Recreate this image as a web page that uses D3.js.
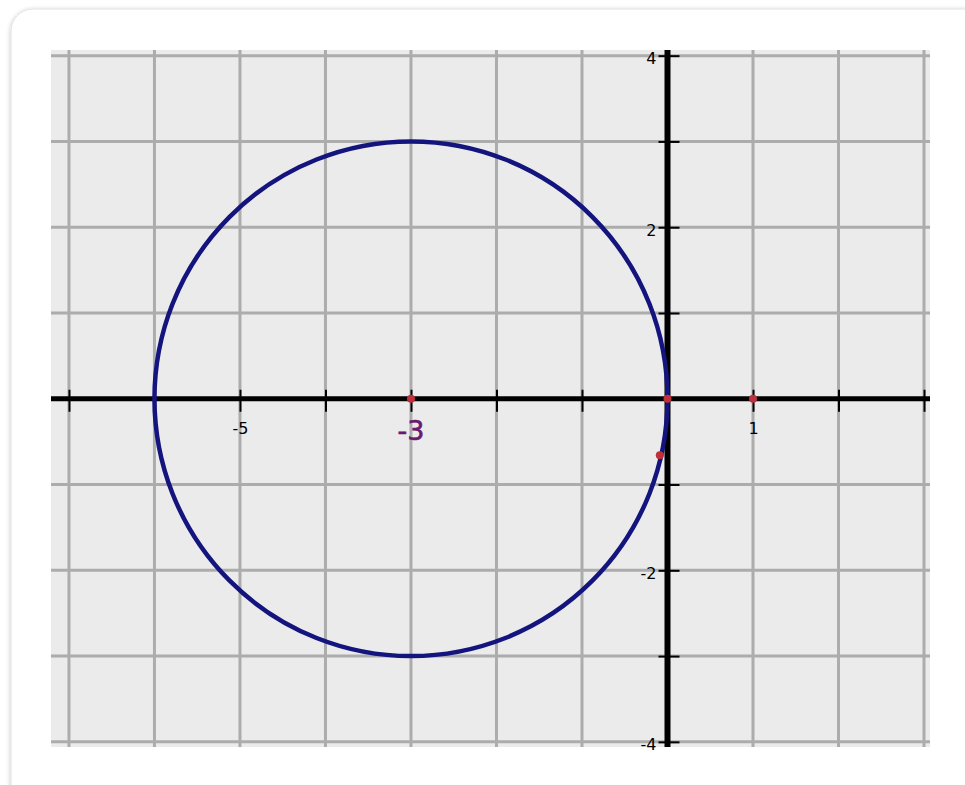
<!DOCTYPE html>
<html>
<head>
<meta charset="utf-8">
<script src="https://cdn.jsdelivr.net/npm/d3@7"></script>
<style>
  body { margin: 0; background: #fff; }
  svg { display: block; }
</style>
</head>
<body>
<script>
// circle: center and radius
const center = [-3, 0]
const radius = 3

// marked points
const pointsX = [-3, 0, 1, -0.09]
const pointsY = [0, 0, 0, -0.66]

// grid and ticks
const xTicks = [-7, -6, -5, -4, -3, -2, -1, 0, 1, 2, 3]
const yTicks = [-4, -3, -2, -1, 0, 1, 2, 3, 4]
const xLabels = [-5, 1]
const yLabels = [4, 2, -2, -4]
const bigLabel = -3

const W = 965, H = 785
const plot = {left: 51, top: 50, right: 930, bottom: 747}

const svg = d3.select('body').append('svg')
    .attr('width', W)
    .attr('height', H)

// card with shadow
const defs = svg.append('defs')
const f = defs.append('filter').attr('id', 'sh').attr('x', -0.05).attr('y', -0.05).attr('width', 1.1).attr('height', 1.1)
f.append('feDropShadow').attr('dx', 0).attr('dy', 1).attr('stdDeviation', 2).attr('flood-color', '#000').attr('flood-opacity', 0.25)

svg.append('rect')
    .attr('x', 11).attr('y', 9)
    .attr('width', 975).attr('height', 800)
    .attr('rx', 22)
    .attr('fill', '#fff')
    .attr('stroke', '#e2e2e2')
    .attr('filter', 'url(#sh)')

const x = d3.scaleLinear().domain([-7.21, 3.07]).range([plot.left, plot.right])
const y = d3.scaleLinear().domain([4.066, -4.06]).range([plot.top, plot.bottom])

// plot background
svg.append('rect')
    .attr('x', plot.left).attr('y', plot.top)
    .attr('width', plot.right - plot.left).attr('height', plot.bottom - plot.top)
    .attr('fill', '#ebebeb')

// grid lines
svg.append('g').selectAll('line').data(xTicks).enter().append('line')
    .attr('x1', d => x(d)).attr('x2', d => x(d))
    .attr('y1', plot.top).attr('y2', plot.bottom)
    .attr('stroke', '#acacac').attr('stroke-width', 3)
svg.append('g').selectAll('line').data(yTicks).enter().append('line')
    .attr('y1', d => y(d)).attr('y2', d => y(d))
    .attr('x1', plot.left).attr('x2', plot.right)
    .attr('stroke', '#acacac').attr('stroke-width', 3)

// axes
const xAxis = svg.append('g')
    .attr('transform', 'translate(0,' + y(0) + ')')
    .call(d3.axisBottom(x).tickValues(xTicks.filter(d => d != 0)).tickSize(12)
        .tickFormat(d => xLabels.includes(d) ? d : ''))
xAxis.select('.domain').remove()
xAxis.selectAll('.tick line').attr('y1', -9).attr('y2', 13).attr('stroke', '#000').attr('stroke-width', 2)
xAxis.selectAll('.tick text').attr('y', 24).attr('fill', '#000')
    .style('font-family', 'DejaVu Sans').style('font-size', '16px')

const yAxis = svg.append('g')
    .attr('transform', 'translate(' + x(0) + ',0)')
    .call(d3.axisLeft(y).tickValues(yTicks.filter(d => d != 0)).tickSize(9)
        .tickFormat(d => yLabels.includes(d) ? d : ''))
yAxis.select('.domain').remove()
yAxis.selectAll('.tick line').attr('x1', -9).attr('x2', 12).attr('stroke', '#000').attr('stroke-width', 2)
yAxis.selectAll('.tick text').attr('x', -11).attr('dy', '0.5em').attr('fill', '#000')
    .style('font-family', 'DejaVu Sans').style('font-size', '16px')

svg.append('line')
    .attr('x1', plot.left).attr('x2', plot.right)
    .attr('y1', y(0)).attr('y2', y(0))
    .attr('stroke', '#000').attr('stroke-width', 5)
svg.append('line')
    .attr('x1', x(0)).attr('x2', x(0))
    .attr('y1', plot.top).attr('y2', plot.bottom)
    .attr('stroke', '#000').attr('stroke-width', 6)

// the circle
svg.append('ellipse')
    .attr('cx', x(center[0])).attr('cy', y(center[1]))
    .attr('rx', x(center[0] + radius) - x(center[0]))
    .attr('ry', y(center[1] - radius) - y(center[1]))
    .attr('fill', 'none')
    .attr('stroke', '#14147e')
    .attr('stroke-width', 4.5)

// points
svg.append('g').selectAll('circle').data(pointsX).enter().append('circle')
    .attr('cx', d => x(d))
    .attr('cy', (d, i) => y(pointsY[i]))
    .attr('r', 4)
    .attr('fill', '#c0303a')

// big label
svg.append('text')
    .attr('x', x(bigLabel)).attr('y', y(0) + 41)
    .attr('text-anchor', 'middle')
    .attr('font-family', 'DejaVu Sans')
    .attr('font-size', 27)
    .attr('fill', '#6a1a6e')
    .attr('stroke', '#6a1a6e')
    .attr('stroke-width', 0.6)
    .text(bigLabel)
</script>
</body>
</html>
